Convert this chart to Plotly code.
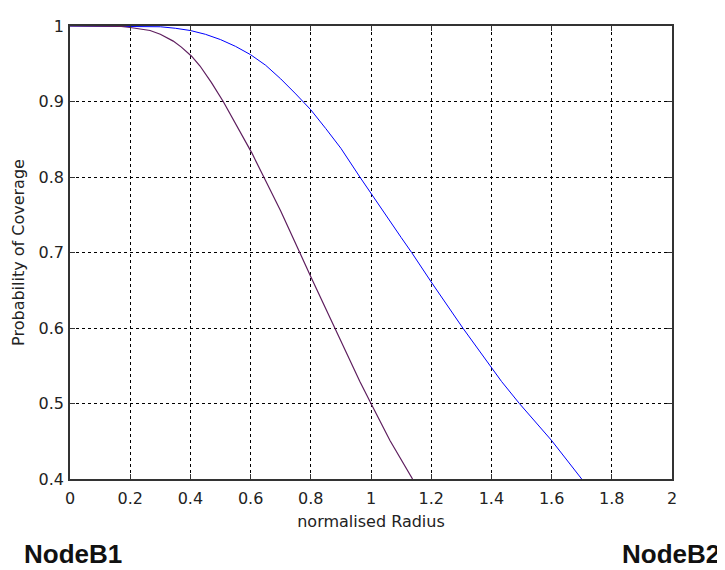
import plotly.graph_objects as go

# Blue curve (NodeB2 coverage)
blue_x = [0, 0.1, 0.2, 0.25, 0.3, 0.35, 0.4, 0.45, 0.5, 0.55, 0.6, 0.65, 0.7, 0.75, 0.8, 0.85,
          0.9, 0.963, 1.0, 1.1, 1.135, 1.2, 1.305, 1.362, 1.434, 1.493, 1.6, 1.70]
blue_y = [1, 1, 1, 0.9995, 0.999, 0.997, 0.994, 0.989, 0.982, 0.973, 0.962, 0.948, 0.93, 0.91,
          0.889, 0.864, 0.838, 0.8, 0.778, 0.72, 0.7, 0.661, 0.6, 0.568, 0.529, 0.5, 0.451, 0.4]

# Purple curve (NodeB1 coverage)
purple_x = [0, 0.1, 0.17, 0.2, 0.23, 0.266, 0.3, 0.343, 0.37, 0.404, 0.432, 0.47, 0.509, 0.55,
            0.604, 0.65, 0.7, 0.8, 0.9, 0.963, 1.0, 1.063, 1.138]
purple_y = [1, 1, 0.9995, 0.998, 0.9965, 0.994, 0.989, 0.980, 0.972, 0.960, 0.947, 0.925, 0.9,
            0.871, 0.832, 0.795, 0.755, 0.668, 0.583, 0.529, 0.5, 0.451, 0.4]

x_ticks = [0, 0.2, 0.4, 0.6, 0.8, 1, 1.2, 1.4, 1.6, 1.8, 2]
x_tick_labels = ["0", "0.2", "0.4", "0.6", "0.8", "1", "1.2", "1.4", "1.6", "1.8", "2"]
y_ticks = [0.4, 0.5, 0.6, 0.7, 0.8, 0.9, 1]
y_tick_labels = ["0.4", "0.5", "0.6", "0.7", "0.8", "0.9", "1"]

FONT = "DejaVu Sans, sans-serif"
BOLD_FONT = "Liberation Sans, Arial, sans-serif"
TXT = "#222222"

# page body has an 8px margin, so the figure is sized to fit the 725x570 window
W, H = 717, 562
ML, MR, MT, MB = 62, 53, 9, 91
PW, PH = W - ML - MR, H - MT - MB

fig = go.Figure()
fig.add_trace(go.Scatter(x=blue_x, y=blue_y, mode="lines",
                         line=dict(color="#0000FF", width=1), showlegend=False))
fig.add_trace(go.Scatter(x=purple_x, y=purple_y, mode="lines",
                         line=dict(color="#5E1E5E", width=1.2), showlegend=False))

axis_common = dict(
    showgrid=True, gridcolor="#000000", gridwidth=1, griddash="3px,3px",
    showline=True, linecolor="#333333", linewidth=1.5, mirror="ticks",
    ticks="inside", ticklen=5, tickcolor="#333333",
    zeroline=False, tickfont=dict(family=FONT, size=16, color=TXT),
)

fig.update_xaxes(range=[0, 2], tickvals=x_ticks, ticktext=x_tick_labels,
                 ticklabelstandoff=4,
                 title=dict(text="normalised Radius", font=dict(family=FONT, size=16, color=TXT),
                            standoff=9),
                 **axis_common)
fig.update_yaxes(range=[0.4, 1], tickvals=y_ticks, ticktext=y_tick_labels,
                 ticklabelstandoff=1,
                 title=dict(text="Probability of Coverage", font=dict(family=FONT, size=16, color=TXT),
                            standoff=10),
                 **axis_common)

fig.add_annotation(text="<b>NodeB1</b>", xref="paper", yref="paper",
                   x=(14 - ML) / PW, y=-76 / PH, xanchor="left", yanchor="middle",
                   showarrow=False, font=dict(family=BOLD_FONT, size=26, color="#111111"))
fig.add_annotation(text="<b>NodeB2</b>", xref="paper", yref="paper",
                   x=(714 - ML) / PW, y=-76 / PH, xanchor="right", yanchor="middle",
                   showarrow=False, font=dict(family=BOLD_FONT, size=26, color="#111111"))

fig.update_layout(width=W, height=H,
                  margin=dict(l=ML, r=MR, t=MT, b=MB),
                  paper_bgcolor="white", plot_bgcolor="white")

fig.write_html("out.html")
